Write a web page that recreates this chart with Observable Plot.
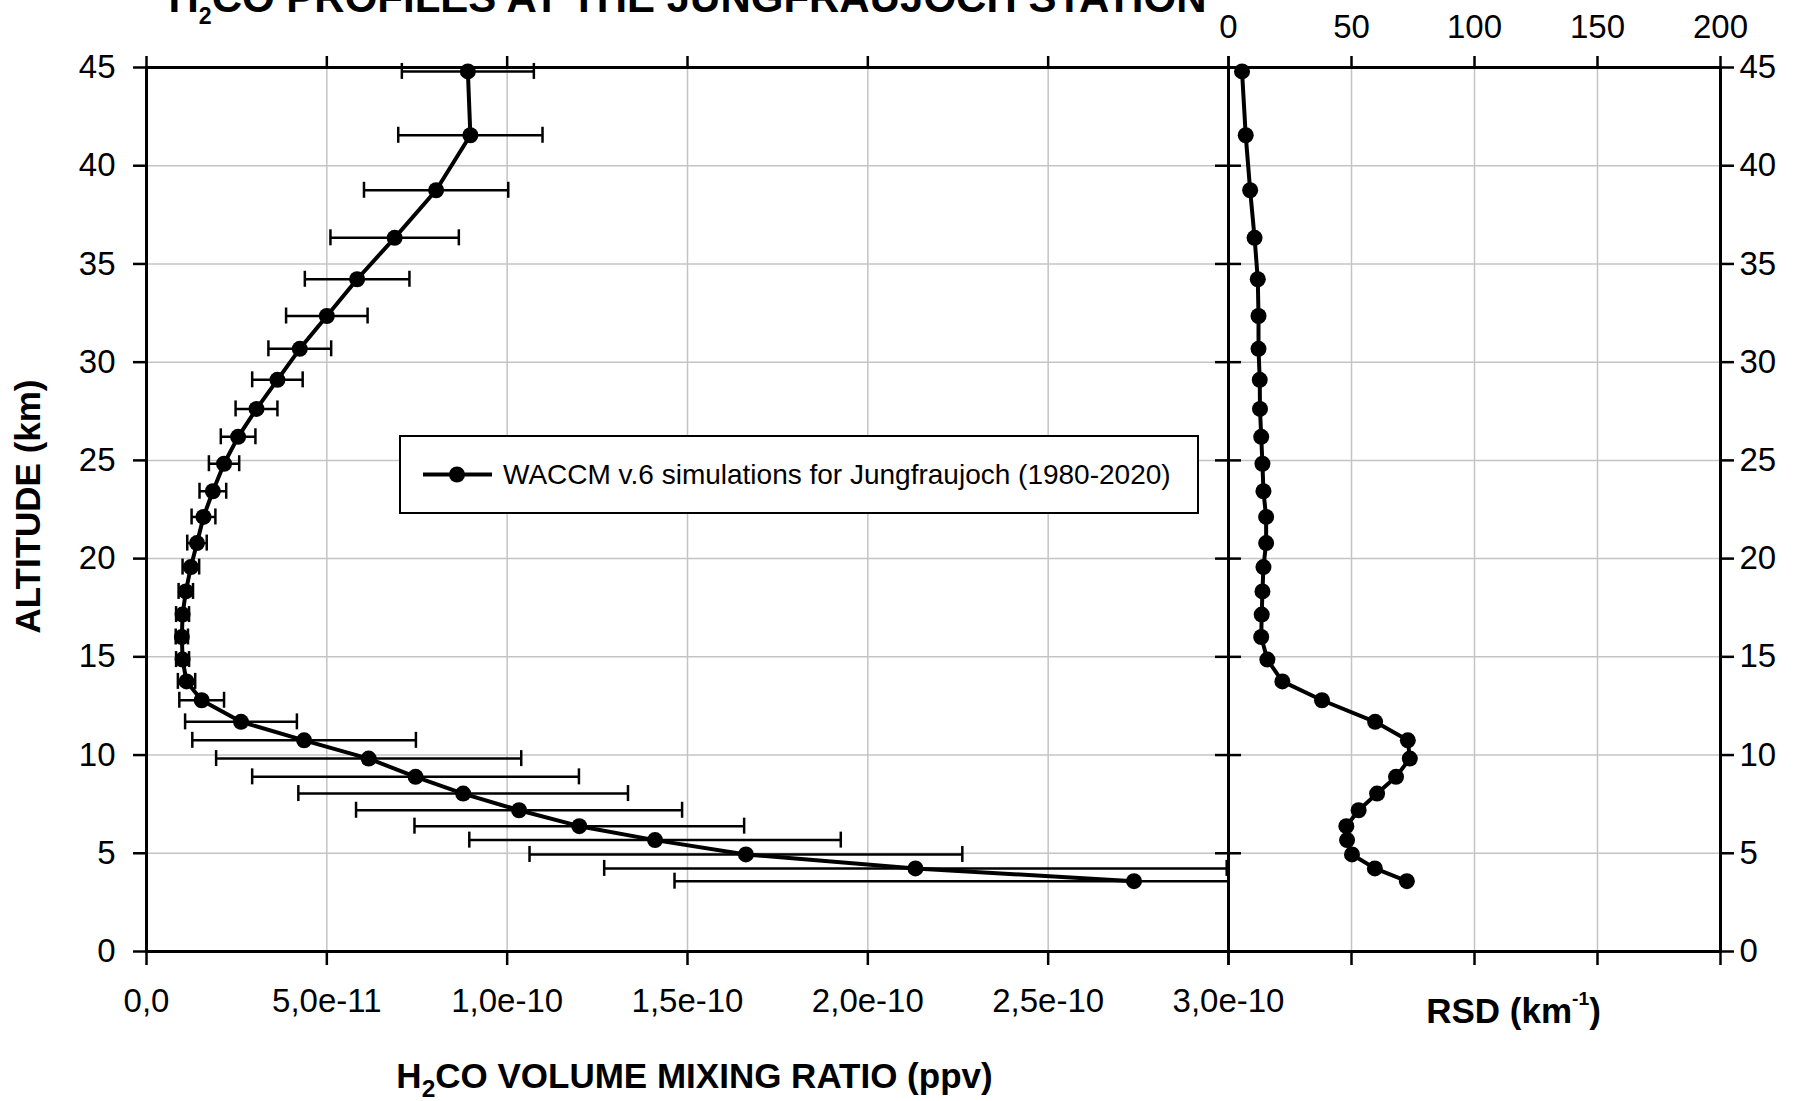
<!DOCTYPE html>
<html>
<head>
<meta charset="utf-8">
<script src="https://cdn.jsdelivr.net/npm/d3@7"></script>
<script src="https://cdn.jsdelivr.net/npm/@observablehq/plot@0.6"></script>
<style>
  body { margin: 0; background: #fff; }
  #chart {
    position: relative; width: 1804px; height: 1101px; overflow: hidden;
    font-family: "Liberation Sans", Arial, sans-serif; background: #fff;
  }
  #chart > svg { position: absolute; left: 0; top: 0; }
  .legend {
    position: absolute; left: 399px; top: 435px; width: 800px; height: 79px;
    box-sizing: border-box; border: 2px solid #000; background: #fff;
    display: flex; align-items: center;
  }
  .legend svg { position: absolute; left: 0; top: 0; }
  .legend span {
    position: absolute; left: 102px; font-size: 28px; color: #000; white-space: nowrap;
  }
</style>
</head>
<body>
<div id="chart"></div>
<script>
// WACCM v.6 profile levels above the Jungfraujoch station (km)
const altitude = [3.58, 4.23, 4.94, 5.67, 6.38, 7.19, 8.04, 8.89, 9.82, 10.75, 11.69, 12.79,
  13.75, 14.86, 16.01, 17.15, 18.33, 19.57, 20.79, 22.12, 23.43, 24.83, 26.2, 27.62,
  29.1, 30.68, 32.35, 34.22, 36.33, 38.75, 41.55, 44.8];

// Mean H2CO volume mixing ratio (ppv)
const vmr = [2.738e-10, 2.132e-10, 1.662e-10, 1.41e-10, 1.2e-10, 1.033e-10, 8.78e-11, 7.46e-11,
  6.16e-11, 4.37e-11, 2.62e-11, 1.53e-11, 1.11e-11, 1.0e-11, 9.8e-12, 1.0e-11, 1.09e-11,
  1.23e-11, 1.4e-11, 1.58e-11, 1.84e-11, 2.15e-11, 2.54e-11, 3.05e-11, 3.63e-11, 4.25e-11,
  5.0e-11, 5.84e-11, 6.88e-11, 8.03e-11, 8.98e-11, 8.91e-11];

// Standard deviation of the mixing ratio (ppv)
const vmrErr = [1.274e-10, 8.63e-11, 6.0e-11, 5.15e-11, 4.57e-11, 4.52e-11, 4.57e-11, 4.53e-11,
  4.23e-11, 3.1e-11, 1.55e-11, 6.2e-12, 2.4e-12, 1.8e-12, 1.7e-12, 1.8e-12, 2.0e-12,
  2.3e-12, 2.7e-12, 3.3e-12, 3.7e-12, 4.2e-12, 4.8e-12, 5.8e-12, 7.0e-12, 8.7e-12,
  1.13e-11, 1.45e-11, 1.78e-11, 2.0e-11, 2.0e-11, 1.83e-11];

// Relative standard deviation (km-1)
const rsd = [72.5, 59.5, 50.2, 48.2, 47.9, 52.9, 60.4, 68.1, 73.7, 72.9, 59.6, 38.0,
  21.9, 15.8, 13.3, 13.5, 13.8, 14.2, 15.3, 15.3, 14.2, 13.8, 13.3, 12.8,
  12.7, 12.2, 12.2, 11.9, 10.6, 8.8, 7.0, 5.5];

const altTicks = [0, 5, 10, 15, 20, 25, 30, 35, 40, 45];
const vmrTicks = [0, 5e-11, 1e-10, 1.5e-10, 2e-10, 2.5e-10, 3e-10];
const vmrTickLabels = ["0,0", "5,0e-11", "1,0e-10", "1,5e-10", "2,0e-10", "2,5e-10", "3,0e-10"];
const rsdTicks = [0, 50, 100, 150, 200];

const title = "H2CO PROFILES AT THE JUNGFRAUJOCH STATION";
const xTitle = "H2CO VOLUME MIXING RATIO (ppv)";
const yTitle = "ALTITUDE (km)";
const rsdTitle = "RSD (km-1)";
const legendText = "WACCM v.6 simulations for Jungfraujoch (1980-2020)";

const rows = altitude.map((a, i) => ({alt: a, vmr: vmr[i], err: vmrErr[i], rsd: rsd[i]}));

// layout
const W = 1804, H = 1101;
const frameTop = 67, frameBottom = 951;
const split = 1228, leftEdge = 146, rightEdge = 1720;
const FONT = '"Liberation Sans", Arial, sans-serif';
const GRID = "#c4c4c4";
const blank = () => "";

const base = {
  width: W, height: H,
  marginTop: frameTop, marginBottom: H - frameBottom,
  y: {domain: [0, 45]},
  style: {fontFamily: FONT, background: "transparent", overflow: "visible", maxWidth: "none"}
};

const vmrPlot = Plot.plot({
  ...base,
  marginLeft: leftEdge, marginRight: W - split,
  x: {domain: [0, 3e-10]},
  marks: [
    Plot.gridX(vmrTicks, {stroke: GRID, strokeOpacity: 1, strokeWidth: 1.5}),
    Plot.gridY(altTicks, {stroke: GRID, strokeOpacity: 1, strokeWidth: 1.5}),
    // error bars with end caps
    Plot.ruleY(rows, {y: "alt", x1: d => d.vmr - d.err, x2: d => d.vmr + d.err,
      stroke: "black", strokeWidth: 2.5, clip: true}),
    Plot.ruleX(rows, {x: d => d.vmr - d.err, y1: "alt", y2: "alt",
      insetTop: -8, insetBottom: -8, stroke: "black", strokeWidth: 2.5}),
    Plot.ruleX(rows.filter(d => d.vmr + d.err <= 3e-10), {x: d => d.vmr + d.err, y1: "alt", y2: "alt",
      insetTop: -8, insetBottom: -8, stroke: "black", strokeWidth: 2.5}),
    Plot.line(rows, {x: "vmr", y: "alt", stroke: "black", strokeWidth: 4}),
    Plot.dot(rows, {x: "vmr", y: "alt", r: 8, fill: "black", stroke: "none"}),
    Plot.frame({stroke: "black", strokeWidth: 3}),
    Plot.axisY(altTicks, {anchor: "left", tickSize: 13, tickPadding: 18, fontSize: 33,
      strokeWidth: 2.5, label: null}),
    Plot.axisX(vmrTicks, {anchor: "bottom", tickSize: 14, tickPadding: 23, fontSize: 33,
      strokeWidth: 2.5, label: null, tickFormat: d => vmrTickLabels[vmrTicks.indexOf(d)]}),
    Plot.axisX(vmrTicks, {anchor: "top", tickSize: 12, tickFormat: blank, strokeWidth: 2.5, label: null}),
    Plot.text([title], {frameAnchor: "top-left", textAnchor: "start", lineAnchor: "bottom",
      dx: 22, dy: -56, fontSize: 42, fontWeight: "bold"}),
    Plot.text([xTitle], {frameAnchor: "bottom", lineAnchor: "bottom", dx: 7, dy: 136,
      fontSize: 35, fontWeight: "bold"}),
    Plot.text([yTitle], {frameAnchor: "left", textAnchor: "middle", rotate: -90, dx: -118, dy: -3,
      fontSize: 35, fontWeight: "bold"})
  ]
});

const rsdPlot = Plot.plot({
  ...base,
  marginLeft: split, marginRight: W - rightEdge,
  x: {domain: [0, 200]},
  marks: [
    Plot.gridX(rsdTicks, {stroke: GRID, strokeOpacity: 1, strokeWidth: 1.5}),
    Plot.gridY(altTicks, {stroke: GRID, strokeOpacity: 1, strokeWidth: 1.5}),
    Plot.line(rows, {x: "rsd", y: "alt", stroke: "black", strokeWidth: 4}),
    Plot.dot(rows, {x: "rsd", y: "alt", r: 8, fill: "black", stroke: "none"}),
    Plot.frame({stroke: "black", strokeWidth: 3}),
    // shared middle axis: ticks cross the line on both sides
    Plot.ruleY(altTicks, {y: d => d, x1: 0, x2: 0, insetLeft: -13, insetRight: -13,
      stroke: "black", strokeWidth: 2.5}),
    Plot.axisY(altTicks, {anchor: "right", tickSize: 13, tickPadding: 6, fontSize: 33,
      strokeWidth: 2.5, label: null}),
    Plot.axisX(rsdTicks, {anchor: "top", tickSize: 12, tickPadding: 18, fontSize: 33,
      strokeWidth: 2.5, label: null}),
    Plot.axisX(rsdTicks, {anchor: "bottom", tickSize: 14, tickFormat: blank, strokeWidth: 2.5, label: null}),
    Plot.text([rsdTitle], {frameAnchor: "bottom", lineAnchor: "bottom", dx: 39, dy: 71,
      fontSize: 35, fontWeight: "bold"})
  ]
});

const chart = document.getElementById("chart");
chart.append(vmrPlot, rsdPlot);

// legend box inside the left panel
const legend = document.createElement("div");
legend.className = "legend";
legend.innerHTML =
  `<svg width="796" height="75"><line x1="22" y1="37.5" x2="91" y2="37.5" stroke="black" stroke-width="4"/>` +
  `<circle cx="56" cy="37.5" r="8" fill="black"/></svg><span>${legendText}</span>`;
chart.append(legend);

// chemical subscripts and unit exponents
const SVGNS = "http://www.w3.org/2000/svg";
function richText(svg, plain, parts) {
  svg.querySelectorAll("text").forEach(t => {
    if (t.textContent !== plain) return;
    const fs = parseFloat(getComputedStyle(t).fontSize);
    t.textContent = "";
    let offset = 0;
    for (const p of parts) {
      const s = document.createElementNS(SVGNS, "tspan");
      s.textContent = p.t;
      const target = p.shift ? p.shift * fs : 0;
      if (target !== offset) { s.setAttribute("dy", target - offset); offset = target; }
      if (p.size) s.setAttribute("font-size", p.size * fs);
      t.appendChild(s);
    }
  });
}
richText(vmrPlot, title, [{t: "H"}, {t: "2", size: 0.55, shift: 0.3}, {t: "CO PROFILES AT THE JUNGFRAUJOCH STATION"}]);
richText(vmrPlot, xTitle, [{t: "H"}, {t: "2", size: 0.7, shift: 0.28}, {t: "CO VOLUME MIXING RATIO (ppv)"}]);
richText(rsdPlot, rsdTitle, [{t: "RSD (km"}, {t: "-1", size: 0.55, shift: -0.5}, {t: ")"}]);
</script>
</body>
</html>
